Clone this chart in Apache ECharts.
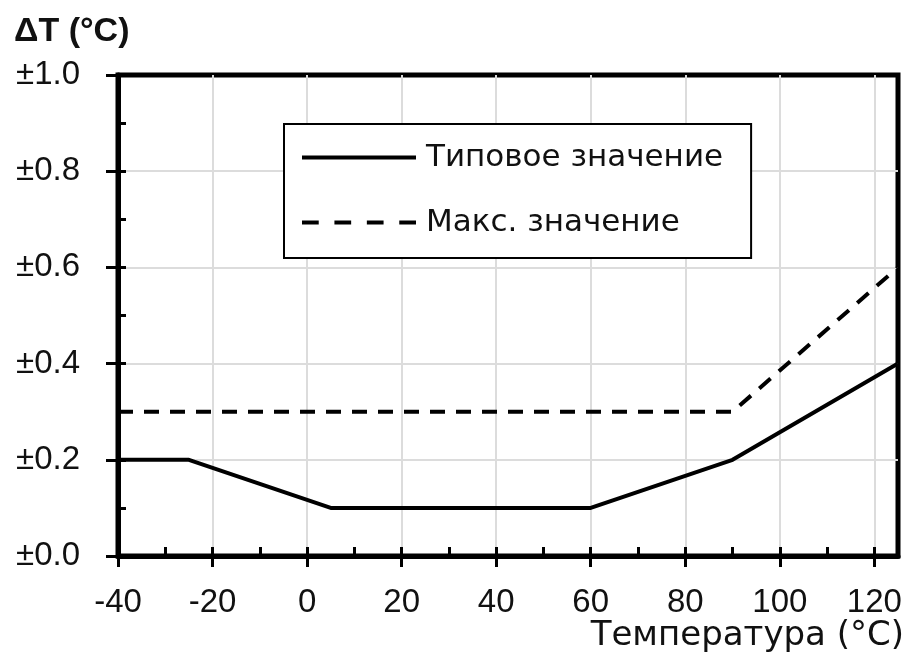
<!DOCTYPE html>
<html><head><meta charset="utf-8">
<script src="https://cdn.jsdelivr.net/npm/echarts@6/dist/echarts.min.js"></script>
<style>html,body{margin:0;padding:0;background:#fff}#c{width:909px;height:655px}</style>
</head><body><div id="c"></div>
<script>
const seriesNames = ['Типовое значение', 'Макс. значение'];
const typicalData = [[-40, 0.2], [-25, 0.2], [5, 0.1], [60, 0.1], [90, 0.2], [125, 0.4]];
const maxData = [[-40, 0.3], [90, 0.3], [125, 0.6]];
const xTicks = { min: -40, max: 125, major: 20, minor: 10 };
const yTicks = { min: 0, max: 1, major: 0.2, minor: 0.1 };
const yTitle = 'ΔT (°C)';
const xTitle = 'Температура (°C)';

const sans = '"Liberation Sans", Arial, sans-serif';
const dejavu = '"DejaVu Sans", sans-serif';
const dashIcon = 'path://M0,0h16v4h-16z M31,0h16v4h-16z M62,0h16v4h-16z M93,0h16v4h-16z';
const chart = echarts.init(document.getElementById('c'));
chart.setOption({
  animation: false,
  backgroundColor: '#fff',
  title: [
    { text: yTitle, left: 14, top: 15, padding: 0, textStyle: { fontFamily: sans, fontWeight: 'bold', fontSize: 34, color: '#111' } },
    { text: xTitle, right: 5, top: 619, padding: 0, textStyle: { fontFamily: dejavu, fontWeight: 'normal', fontSize: 34, color: '#111' } }
  ],
  grid: { left: 118, top: 75, right: 11, bottom: 99, show: true, borderColor: '#000', borderWidth: 5, backgroundColor: 'transparent' },
  legend: {
    orient: 'vertical', left: 284, top: 124,
    padding: [18, 28, 20, 18], itemGap: 34,
    itemWidth: 114, itemHeight: 4, symbolKeepAspect: false,
    borderColor: '#000', borderWidth: 2, backgroundColor: '#fff',
    textStyle: { fontFamily: dejavu, fontSize: 31, color: '#111', padding: [0, 0, 0, 5] },
    data: [{ name: seriesNames[0], icon: 'rect' }, { name: seriesNames[1], icon: dashIcon }]
  },
  xAxis: [
    { type: 'value', min: xTicks.min, max: xTicks.max, interval: xTicks.major,
      axisLine: { show: true, onZero: false, lineStyle: { color: '#000', width: 5 } },
      axisTick: { show: true, inside: false, length: 11, lineStyle: { color: '#000', width: 3 } },
      axisLabel: { showMaxLabel: false, margin: 30, fontFamily: sans, fontSize: 33, color: '#111',
        formatter: v => (v % 20 === 0 ? String(v) : '') },
      splitLine: { show: true, showMinLine: false, showMaxLine: false, lineStyle: { color: '#dcdcdc', width: 2 } } },
    { type: 'value', min: xTicks.min, max: xTicks.max, interval: xTicks.minor, position: 'bottom',
      axisLine: { show: false, onZero: false }, axisLabel: { show: false }, splitLine: { show: false },
      axisTick: { show: true, inside: true, length: 9, lineStyle: { color: '#000', width: 3 } } }
  ],
  yAxis: [
    { type: 'value', min: yTicks.min, max: yTicks.max, interval: yTicks.major,
      axisLine: { show: true, onZero: false, lineStyle: { color: '#000', width: 5 } },
      axisTick: { show: true, inside: false, length: 12, lineStyle: { color: '#000', width: 3 } },
      axisLabel: { margin: 38, fontFamily: sans, fontSize: 33, color: '#111',
        formatter: v => '±' + v.toFixed(1) },
      splitLine: { show: true, showMinLine: false, showMaxLine: false, lineStyle: { color: '#dcdcdc', width: 2 } } },
    { type: 'value', min: yTicks.min, max: yTicks.max, interval: yTicks.minor, position: 'left',
      axisLine: { show: false, onZero: false }, axisLabel: { show: false }, splitLine: { show: false },
      axisTick: { show: true, inside: true, length: 8, lineStyle: { color: '#000', width: 3 } } }
  ],
  series: [
    { name: seriesNames[0], type: 'line', data: typicalData, showSymbol: false, symbol: 'none',
      lineStyle: { color: '#000', width: 4, type: 'solid' }, itemStyle: { color: '#000' }, z: 3 },
    { name: seriesNames[1], type: 'line', data: maxData, showSymbol: false, symbol: 'none',
      lineStyle: { color: '#000', width: 4, type: [15, 11] }, itemStyle: { color: '#000' }, z: 3 }
  ]
});
</script></body></html>
